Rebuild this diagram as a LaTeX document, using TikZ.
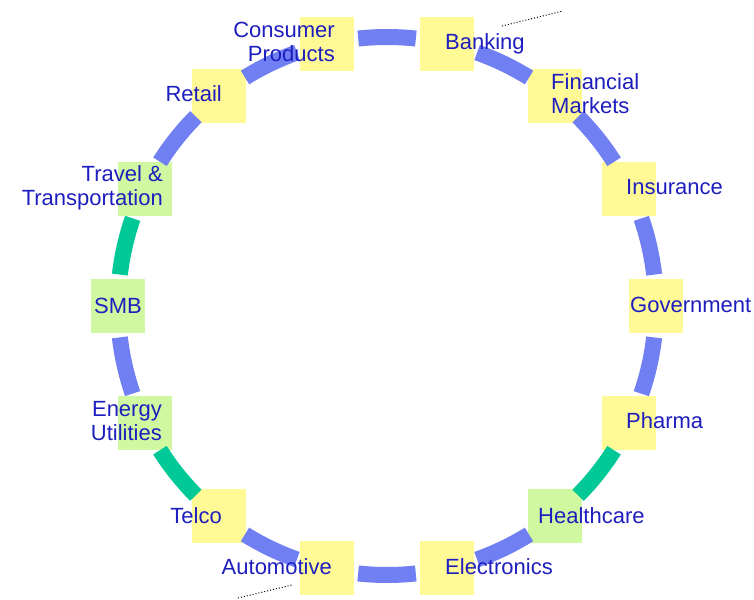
\documentclass[tikz,border=0pt]{standalone}
\usepackage{fontspec}
\setmainfont{Liberation Sans}
\usepackage{tikz}

\definecolor{padyellow}{RGB}{255,250,150}
\definecolor{padgreen}{RGB}{208,248,160}
\definecolor{ringblue}{RGB}{112,128,242}
\definecolor{ringgreen}{RGB}{0,200,150}
\definecolor{labelblue}{RGB}{30,30,190}

\begin{document}
\begin{tikzpicture}[x=1pt, y=1pt,
    pad/.style={minimum size=54pt, inner sep=0pt},
    sector/.style={text=labelblue, inner sep=0pt, font=\fontsize{22}{24}\selectfont},
    link/.style={line width=16pt}]
    \useasboundingbox (-387,-293) rectangle (367,306);
    % squares round the ring
    \foreach \a/\n/\c in {0/gov/padyellow, 1/ins/padyellow, 2/fin/padyellow, 3/bank/padyellow,
        4/cons/padyellow, 5/ret/padyellow, 6/trav/padgreen, 7/smb/padgreen, 8/ener/padgreen,
        9/tel/padyellow, 10/auto/padyellow, 11/elec/padyellow, 12/heal/padgreen, 13/pha/padyellow}
        {\node[pad, fill=\c] (\n) at ({\a*360/14}:269) {};}
    % ring segments
    \foreach \a/\c in {0/ringblue, 1/ringblue, 2/ringblue, 3/ringblue, 4/ringblue, 5/ringblue, 6/ringgreen,
        7/ringblue, 8/ringgreen, 9/ringblue, 10/ringblue, 11/ringblue, 12/ringgreen, 13/ringblue}
        {\draw[link, \c] ({\a*360/14+6.7}:269) arc[start angle={\a*360/14+6.7}, delta angle=12.3, radius=269];}
    % labels
    \node[sector, anchor=east, align=right] (consl) at (-52,264) {Consumer\\Products};
    \node[sector, anchor=west] (bankl) at (58,262) {Banking};
    \node[sector, anchor=west, align=left] (finl) at (164,212) {Financial\\Markets};
    \node[sector, anchor=west] (insl) at (239,119) {Insurance};
    \node[sector, anchor=west] (govl) at (243,1) {Government};
    \node[sector, anchor=west] (phal) at (239,-115) {Pharma};
    \node[sector, anchor=west] (heall) at (151,-210) {Healthcare};
    \node[sector, anchor=west] (elecl) at (58,-261) {Electronics};
    \node[sector, anchor=east] (autol) at (-55,-261) {Automotive};
    \node[sector, anchor=east] (tell) at (-165,-210) {Telco};
    \node[sector, anchor=east, align=right] (enerl) at (-225,-115) {Energy\\Utilities};
    \node[sector] (smbl) at (smb) {SMB};
    \node[sector, anchor=east, align=right] (travl) at (-224,118) {Travel \&\\Transportation};
    \node[sector, anchor=east] (retl) at (-165,212) {Retail};
    % dotted ticks
    \coordinate (ta) at (115,280); \coordinate (tb) at (176,295);
    \coordinate (tc) at (-149,-292); \coordinate (td) at (-95,-279);
    \draw[line width=1pt, dash pattern=on 1pt off 2pt] (ta) -- (tb);
    \draw[line width=1pt, dash pattern=on 1pt off 2pt] (tc) -- (td);
\end{tikzpicture}
\end{document}
